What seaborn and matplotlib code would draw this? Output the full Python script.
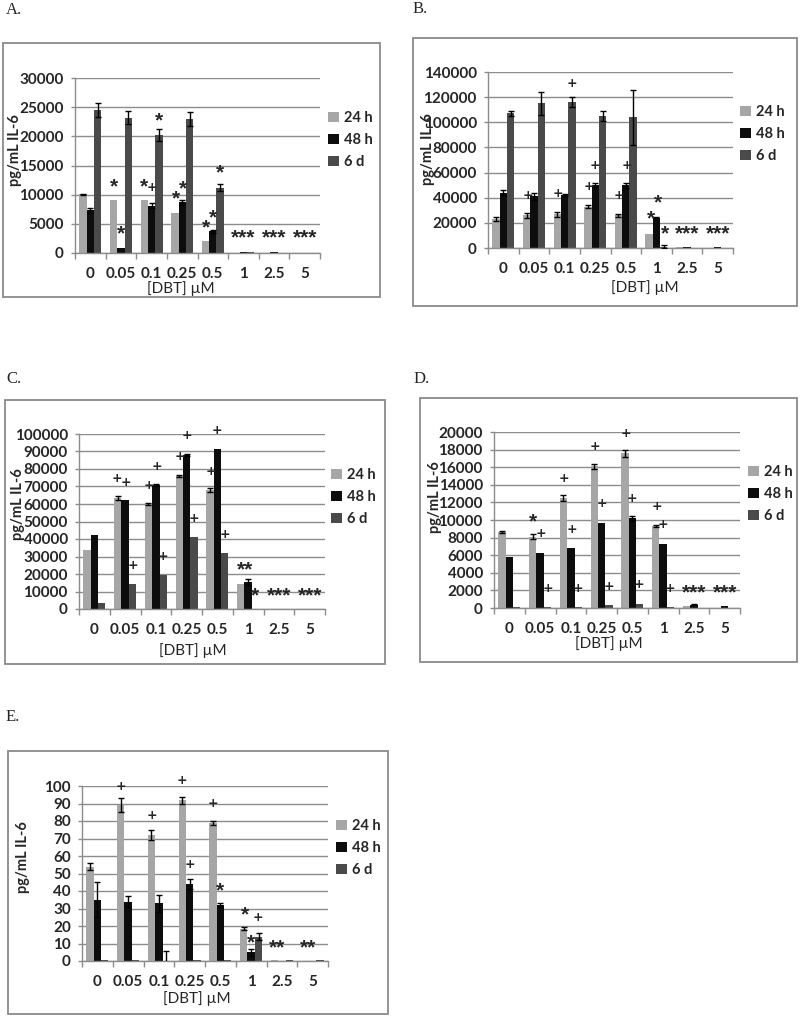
import numpy as np
import pandas as pd
import matplotlib
matplotlib.use("Agg")
import matplotlib.pyplot as plt
import seaborn as sns
from matplotlib.patches import Rectangle, Patch

# ---------------- data ----------------
doses = ["0", "0.05", "0.1", "0.25", "0.5", "1", "2.5", "5"]
times = ["24 h", "48 h", "6 d"]

# Panel A
a_24 = [10100, 9100, 9100, 6900, 2100, 80, 60, 60]
a_48 = [7300, 850, 8100, 8700, 3700, 200, 100, 80]
a_6d = [24600, 23200, 20200, 23000, 11200, 250, 60, 60]
a_24_err = [100, 0, 0, 0, 0, 0, 0, 0]
a_48_err = [400, 0, 400, 400, 200, 0, 0, 0]
a_6d_err = [1200, 1100, 1000, 1200, 600, 0, 0, 0]
a_marks = [(1, 0, 12200, "*"), (1, 1, 4100, "*"),
           (2, 0, 12200, "*"), (2, 1.1, 11300, "+"), (2, 2, 23400, "*"),
           (3, 0.2, 10100, "*"), (3, 1.1, 11900, "*"),
           (4, 0.1, 5200, "*"), (4, 1, 6900, "*"), (4, 2, 14500, "*"),
           (5, 1, 3500, "***"), (6, 1, 3500, "***"), (7, 1, 3500, "***")]

# Panel B
b_24 = [23000, 26000, 27000, 33000, 26000, 11500, 500, 200]
b_48 = [44000, 41000, 42000, 50000, 50000, 24000, 800, 600]
b_6d = [107000, 115000, 116000, 105000, 104000, 1000, 200, 100]
b_24_err = [1500, 2000, 2000, 1000, 1000, 0, 0, 0]
b_48_err = [2000, 2500, 1000, 1500, 2000, 500, 0, 0]
b_6d_err = [2000, 9000, 4000, 4000, 22000, 1000, 0, 0]
b_marks = [(1, 0.2, 41700, "+"),
           (2, 0.1, 43000, "+"), (2, 2, 131200, "+"),
           (3, 0.1, 48800, "+"), (3, 1, 66000, "+"),
           (4, 0.1, 41700, "+"), (4, 1.1, 66000, "+"),
           (5, 0.3, 27200, "*"), (5, 1.2, 39600, "*"), (5, 2.2, 15300, "*"),
           (6, 1, 15300, "***"), (7, 1, 15300, "***")]

# Panel C
c_24 = [34000, 63500, 60000, 76000, 68000, 14500, 0, 0]
c_48 = [42500, 62000, 71000, 88000, 91500, 15500, 0, 0]
c_6d = [3500, 14500, 19500, 41000, 32000, 0, 0, 0]
c_24_err = [0, 1000, 500, 500, 1000, 0, 0, 0]
c_48_err = [0, 0, 500, 500, 0, 1500, 0, 0]
c_6d_err = [0, 0, 0, 0, 0, 0, 0, 0]
c_marks = [(1, -0.1, 74300, "+"), (1, 1.15, 72400, "+"), (1, 2, 24900, "+"),
           (2, 0.1, 70500, "+"), (2, 1.1, 81300, "+"), (2, 2, 30000, "+"),
           (3, 0.1, 87000, "+"), (3, 1.1, 99200, "+"), (3, 2, 51700, "+"),
           (4, 0.1, 78700, "+"), (4, 1, 102200, "+"), (4, 2.05, 42600, "+"),
           (5, 0.6, 25300, "**"), (5, 1.9, 10000, "*"),
           (6, 1, 10000, "***"), (7, 1, 10000, "***")]

# Panel D
d_24 = [8600, 8100, 12500, 16100, 17600, 9300, 250, 0]
d_48 = [5800, 6300, 6800, 9700, 10200, 7300, 350, 250]
d_6d = [100, 150, 150, 300, 500, 100, 0, 0]
d_24_err = [100, 300, 300, 300, 400, 100, 0, 0]
d_48_err = [0, 0, 0, 0, 300, 0, 50, 0]
d_6d_err = [0, 0, 0, 0, 0, 0, 0, 0]
d_marks = [(1, 0, 10350, "*"), (1, 1.1, 8450, "+"), (1, 2, 2270, "+"),
           (2, 0.1, 14700, "+"), (2, 1.1, 8900, "+"), (2, 2, 2270, "+"),
           (3, 0.1, 18300, "+"), (3, 1, 11860, "+"), (3, 2, 2460, "+"),
           (4, 0.1, 19800, "+"), (4, 1, 12430, "+"), (4, 1.9, 2650, "+"),
           (5, 0.1, 11560, "+"), (5, 1, 9475, "+"), (5, 1.9, 2270, "+"),
           (6, 1, 2270, "***"), (7, 1, 2270, "***")]

# Panel E
e_24 = [54, 89, 72, 92, 79, 18.5, 0.6, 0]
e_48 = [35, 34, 33, 44, 32, 5, 0, 0]
e_6d = [0.6, 0.6, 0, 0.6, 0.6, 14, 0.6, 0.6]
e_24_err = [2, 4, 3, 2, 1, 1, 0, 0]
e_48_err = [10, 3, 5, 3, 1, 2, 0, 0]
e_6d_err = [0, 0, 6, 0, 0, 2, 0, 0]
e_marks = [(1, 0, 100, "+"), (2, 0.1, 83, "+"),
           (3, 0, 103, "+"), (3, 1, 55, "+"),
           (4, 0, 90, "+"), (4, 1, 43, "*"),
           (5, 0.2, 29, "*"), (5, 1.0, 13, "*"), (5, 1.9, 25, "+"),
           (6, 0.4, 10, "**"), (7, 0.4, 10, "**")]

# ---------------- style ----------------
W, H = 800, 1016
colors = ["#a6a6a6", "#0d0d0d", "#4a4a4a"]
GRID = "#8c8c8c"
FONT = "Lato"

sns.set_theme(style="white")
plt.rcParams["font.family"] = [FONT, "DejaVu Sans"]

fig = plt.figure(figsize=(W / 100, H / 100), dpi=100)


def fx(x):
    return x / W


def fy(y):
    return 1 - y / H


def panel(letter, label_xy, box, axbox, vals, errs, marks, ymax, ystep,
          legend_xy, ylab_xy, xlab_xy):
    bx0, by0, bx1, by1 = box
    fig.add_artist(Rectangle((fx(bx0), fy(by1)), fx(bx1 - bx0), (by1 - by0) / H,
                             transform=fig.transFigure, fill=False,
                             edgecolor="#8a8a8a", lw=1.3))
    fig.text(fx(label_xy[0]), fy(label_xy[1]), letter, family="Liberation Serif",
             fontsize=12, va="center", ha="left")
    x0, y0, x1, y1 = axbox
    ax = fig.add_axes([fx(x0), fy(y1), fx(x1 - x0), (y1 - y0) / H])
    df = pd.DataFrame({
        "dose": [d for d in doses for _ in times],
        "time": [t for _ in doses for t in times],
        "value": [vals[j][i] for i in range(len(doses)) for j in range(3)],
    })
    sns.barplot(data=df, x="dose", y="value", hue="time", order=doses,
                hue_order=times, palette=colors, width=0.72, errorbar=None,
                saturation=1, legend=False, ax=ax, linewidth=0, zorder=2)
    bar_conts = list(ax.containers)[:3]
    bw = bar_conts[0][0].get_width()
    for j, cont in enumerate(bar_conts):
        for i, bar in enumerate(cont):
            e = errs[j][i]
            if e > 0:
                ax.errorbar(bar.get_x() + bar.get_width() / 2, bar.get_height(),
                            yerr=e, fmt="none", ecolor="black", elinewidth=1,
                            capsize=2.2, capthick=1, zorder=3)
    for (gi, slot, yv, txt) in marks:
        xc = gi + (slot - 1) * bw
        if "*" in txt:
            ax.annotate(txt, (xc, yv), xytext=(0, -3.5), textcoords="offset points",
                        ha="center", va="center", fontsize=15, fontweight="bold",
                        family="Liberation Sans", annotation_clip=False, zorder=4)
        else:
            ax.annotate(txt, (xc, yv), xytext=(0, 0), textcoords="offset points",
                        ha="center", va="center", fontsize=9, fontweight="bold",
                        family="DejaVu Sans", annotation_clip=False, zorder=4)
    ax.set_xlim(-0.5, len(doses) - 0.5)
    ax.set_ylim(0, ymax)
    yt = np.arange(0, ymax + ystep / 2, ystep)
    ax.set_yticks(yt)
    ax.set_yticklabels([f"{int(v)}" for v in yt], fontweight="bold", fontsize=11)
    ax.set_xticks(range(len(doses)))
    ax.set_xticklabels(doses, fontweight="bold", fontsize=11)
    ax.set_xticks(np.arange(-0.5, len(doses), 1), minor=True)
    ax.tick_params(axis="x", which="major", length=0, pad=10)
    ax.tick_params(axis="x", which="minor", length=4, width=1, color=GRID,
                   direction="out", bottom=True)
    ax.tick_params(axis="y", length=3, width=1, color=GRID, direction="out", pad=5,
                   left=True)
    ax.yaxis.grid(True, color=GRID, lw=1)
    ax.xaxis.grid(False)
    ax.set_axisbelow(True)
    for s in ["top", "right"]:
        ax.spines[s].set_visible(False)
    for s in ["left", "bottom"]:
        ax.spines[s].set_color(GRID)
        ax.spines[s].set_linewidth(1)
    ax.set_ylabel("pg/mL IL-6", fontweight="bold", fontsize=10.5)
    ax.set_xlabel("[DBT] µM", fontsize=11)
    # label anchors: ylabel anchored at its right edge, xlabel at its top edge
    ax.yaxis.set_label_coords((ylab_xy[0] + 7 - x0) / (x1 - x0),
                              (y1 - ylab_xy[1]) / (y1 - y0))
    ax.xaxis.set_label_coords((xlab_xy[0] - x0) / (x1 - x0),
                              (y1 - (xlab_xy[1] - 7)) / (y1 - y0))
    handles = [Patch(facecolor=c, edgecolor="none") for c in colors]
    ax.legend(handles, times, loc="center left",
              bbox_to_anchor=(fx(legend_xy[0] - 4), fy(legend_xy[1])),
              bbox_transform=fig.transFigure, frameon=False, borderpad=0,
              handlelength=0.7, handleheight=0.7, handletextpad=0.35,
              labelspacing=0.55, prop={"weight": "bold", "size": 10.5,
                                       "family": FONT})
    return ax


panel("A.", (6, 10), (3, 43, 380, 297), (75, 78, 320, 253),
      [a_24, a_48, a_6d], [a_24_err, a_48_err, a_6d_err], a_marks,
      30000, 5000, (325, 140), (15, 150), (181, 288))
panel("B.", (413, 9), (413, 38, 797, 306), (488, 72, 733, 248),
      [b_24, b_48, b_6d], [b_24_err, b_48_err, b_6d_err], b_marks,
      140000, 20000, (737, 134), (428, 149), (645, 287))
panel("C.", (6, 379), (5, 400, 385, 664), (79, 434, 325, 609),
      [c_24, c_48, c_6d], [c_24_err, c_48_err, c_6d_err], c_marks,
      100000, 10000, (328, 497), (18, 504), (193, 650))
panel("D.", (414, 379), (420, 398, 797, 662), (494, 432, 740, 608),
      [d_24, d_48, d_6d], [d_24_err, d_48_err, d_6d_err], d_marks,
      20000, 2000, (745, 494), (435, 497), (609, 643))
panel("E.", (6, 717), (8, 751, 388, 1014), (82, 786, 328, 961),
      [e_24, e_48, e_6d], [e_24_err, e_48_err, e_6d_err], e_marks,
      100, 10, (333, 848), (23, 857), (197, 998))

fig.savefig("out.png", dpi=100)
